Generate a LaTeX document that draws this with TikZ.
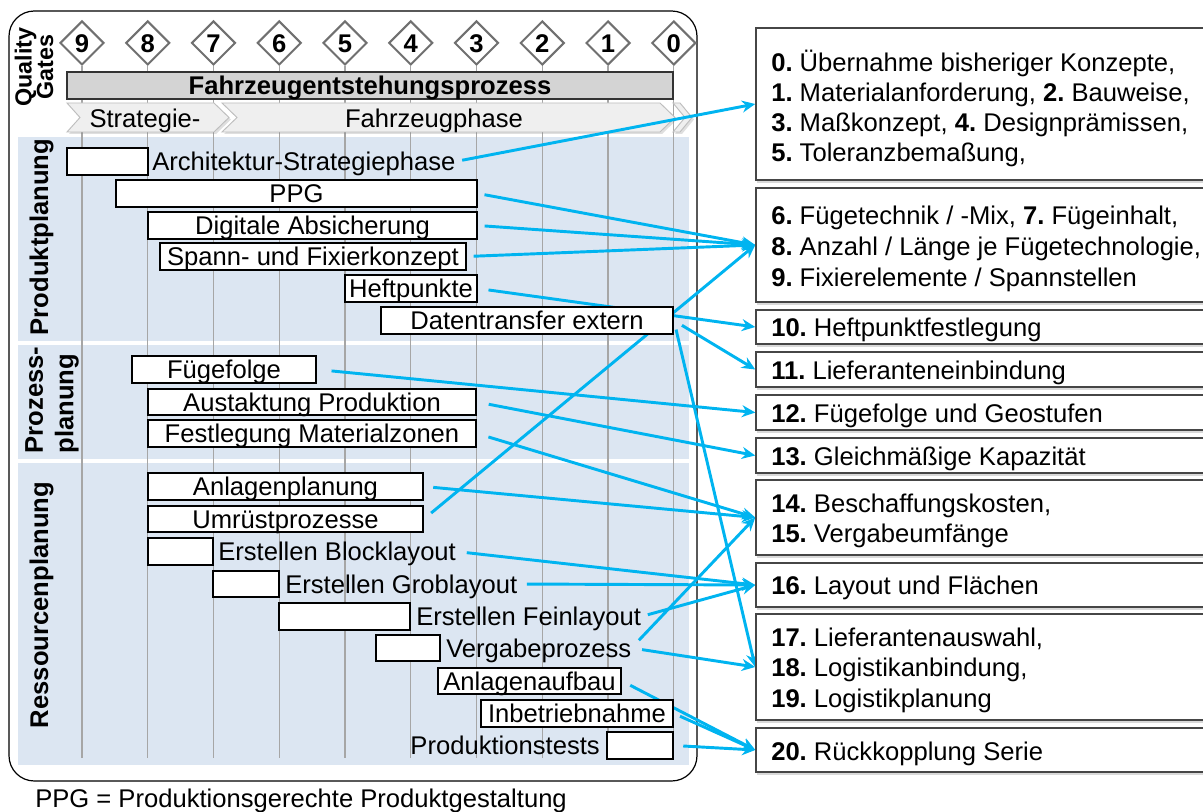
\documentclass[tikz,border=0pt]{standalone}
\usepackage{fontspec}
\setmainfont{Liberation Sans}
\usetikzlibrary{shapes.geometric,arrows.meta,shadows}
\definecolor{arrowblue}{RGB}{0,180,240}
\definecolor{panelblue}{RGB}{220,230,242}
\definecolor{gridgray}{RGB}{166,166,166}
\definecolor{gategray}{RGB}{112,112,112}
\definecolor{barfill}{RGB}{212,212,212}
\definecolor{chevfill}{RGB}{239,239,239}
\definecolor{chevdraw}{RGB}{190,190,190}
\definecolor{rboxdraw}{RGB}{70,70,70}
\pgfdeclarelayer{bg}
\pgfdeclarelayer{arr}
\pgfsetlayers{bg,arr,main}
\newcommand\basefont{\fontsize{19.2pt}{22.7pt}\selectfont\frenchspacing}
\newcommand\gbar[7][gbox]{%
  \pgfmathsetmacro\gbw{(#5-#3)*0.75}%
  \pgfmathsetmacro\gbh{(#6-#4)*0.75}%
  \node[#1, minimum width=\gbw pt, minimum height=\gbh pt] (#2) at ({(#3+#5)/2},{(#4+#6)/2}) {#7};}
\tikzset{
  txt/.style={inner sep=0pt, text height=13.8pt, text depth=0pt},
  gbox/.style={txt, draw=black, line width=1.4pt, fill=white},
  rbox/.style={draw=rboxdraw, line width=1.1pt, fill=white, inner sep=0pt,
    drop shadow={shadow xshift=1pt, shadow yshift=-2pt, opacity=0.3, fill=gray}},
  fzbox/.style={txt, draw=black!80, line width=1.4pt, fill=barfill, font=\basefont\bfseries},
  lbl/.style={txt, anchor=west},
  rtxt/.style={txt, anchor=west},
  gate/.style={diamond, draw=gategray, line width=1.5pt, fill=white, inner sep=0pt,
    minimum width=33pt, minimum height=33pt, txt, font=\basefont\bfseries},
  chev/.style={fill=chevfill, draw=chevdraw, line width=0.7pt,
    drop shadow={shadow xshift=1.5pt, shadow yshift=-1.5pt, opacity=0.25, fill=gray}},
  side/.style={txt, rotate=90, font=\basefont\bfseries},
  conn/.style={draw=arrowblue, line width=2.2pt, shorten <=5pt,
    -{Stealth[length=10pt,width=9pt]}},
}
\begin{document}
\begin{tikzpicture}[x=0.75pt,y=-0.75pt,font=\basefont]
\useasboundingbox (0,0) rectangle (1203,812);
\clip (0,0) rectangle (1203,812);

% ---------- background ----------
\begin{pgfonlayer}{bg}
\draw[line width=0.9pt, rounded corners=19pt, fill=white] (9,11) rectangle (697,781);
\fill[panelblue] (18,137) rectangle (689,341);
\fill[panelblue] (18,345) rectangle (689,459);
\fill[panelblue] (18,463) rectangle (689,765);
\end{pgfonlayer}

% ---------- quality gates ----------
\foreach \n [count=\i from 0] in {9,8,7,6,5,4,3,2,1,0} {
  \node[gate] (g\n) at ({82+\i*65.75},43) {\n};
  \begin{pgfonlayer}{bg}
  \draw[gridgray, line width=0.9pt] (g\n.south) -- ({82+\i*65.75},758);
  \end{pgfonlayer}
}

% ---------- chevrons ----------
\begin{pgfonlayer}{bg}
\path[chev] (67,103) -- (214,103) -- (229,117.5) -- (214,132) -- (67,132) -- (80,117.5) -- cycle;
\path[chev] (222,103) -- (660,103) -- (675,117.5) -- (660,132) -- (222,132) -- (237,117.5) -- cycle;
\path[chev] (673,103) -- (680,103) -- (692,117.5) -- (680,132) -- (673,132) -- (685,117.5) -- cycle;
\end{pgfonlayer}
\node[txt] (strat) at (145,118) {Strategie-};
\node[txt] (fzph) at (434,118) {Fahrzeugphase};

\gbar[fzbox]{fzp}{67}{72}{673}{99}{Fahrzeugentstehungsprozess}

% ---------- side labels ----------
\node[rotate=90, inner sep=0pt, font=\fontsize{17.5pt}{16pt}\selectfont\bfseries, align=center] (qg) at (34,67) {Quality\\Gates};
\node[side] (pp) at (39,237) {Produktplanung};
\node[rotate=90, inner sep=0pt, align=left, font=\fontsize{19.2pt}{23pt}\selectfont\bfseries] (prz) at (52,400) {Prozess-\\planung};
\node[side] (rp) at (39,605) {Ressourcenplanung};

% ---------- bars ----------
\gbar{arch}{67}{148}{148}{175}{}
\node[lbl] (archl) at (152,161.5) {Architektur-Strategiephase};
\gbar{ppg}{116}{180}{477}{207}{PPG}
\gbar{dig}{148}{212}{477}{239}{Digitale Absicherung\hspace{20pt}}
\gbar{spann}{160}{243}{466}{270}{Spann- und Fixierkonzept}
\gbar{heft}{345}{275}{477}{302}{Heftpunkte}
\gbar{daten}{381}{307}{673}{334}{Datentransfer extern}
\gbar{fuege}{132}{356}{316}{383}{Fügefolge}
\gbar{aust}{148}{389}{476}{415}{Austaktung Produktion}
\gbar{fest}{148}{420}{476}{447}{Festlegung Materialzonen}
\gbar{anlp}{148}{473}{423}{500}{Anlagenplanung}
\gbar{umr}{148}{506}{423}{532}{Umrüstprozesse}
\gbar{blk}{148}{538}{213}{565}{}
\node[lbl] (blkl) at (218,551.5) {Erstellen Blocklayout};
\gbar{grob}{213}{571}{279}{597}{}
\node[lbl] (grobl) at (285,584) {Erstellen Groblayout};
\gbar{fein}{279}{603}{410}{630}{}
\node[lbl] (feinl) at (416,616.5) {Erstellen Feinlayout};
\gbar{verg}{376}{635}{440}{661}{}
\node[lbl] (vergl) at (446,648) {Vergabeprozess};
\gbar{aufb}{438}{668}{621}{694}{Anlagenaufbau}
\gbar{inbe}{481}{700}{673}{727}{Inbetriebnahme}
\gbar{ptest}{607}{732}{673}{759}{}
\node[txt, anchor=east] (ptestl) at (600,745.5) {Produktionstests};

\node[lbl] (foot) at (35,798) {PPG = Produktionsgerechte Produktgestaltung};

% ---------- right boxes ----------
\gbar[rbox]{rA}{756}{28}{1215}{180}{}
\gbar[rbox]{rB}{756}{188}{1215}{302}{}
\gbar[rbox]{rC}{756}{310}{1215}{344}{}
\gbar[rbox]{rD}{756}{352}{1215}{387}{}
\gbar[rbox]{rE}{756}{395}{1215}{430}{}
\gbar[rbox]{rF}{756}{438}{1215}{473}{}
\gbar[rbox]{rG}{756}{480}{1215}{555}{}
\gbar[rbox]{rH}{756}{563}{1215}{607}{}
\gbar[rbox]{rI}{756}{614}{1215}{720}{}
\gbar[rbox]{rJ}{756}{728}{1215}{772}{}

\node[rtxt] (tA1) at (771,62) {\textbf{0.} Übernahme bisheriger Konzepte,};
\node[rtxt] (tA2) at (771,92) {\textbf{1.} Materialanforderung, \textbf{2.} Bauweise,};
\node[rtxt] (tA3) at (771,122) {\textbf{3.} Maßkonzept, \textbf{4.} Designprämissen,};
\node[rtxt] (tA4) at (771,152) {\textbf{5.} Toleranzbemaßung,};
\node[rtxt] (tB1) at (771,215) {\textbf{6.} Fügetechnik / -Mix, \textbf{7.} Fügeinhalt,};
\node[rtxt] (tB2) at (771,246) {\textbf{8.} Anzahl / Länge je Fügetechnologie,};
\node[rtxt] (tB3) at (771,277) {\textbf{9.} Fixierelemente / Spannstellen};
\node[rtxt] (tC) at (771,327) {\textbf{10.} Heftpunktfestlegung};
\node[rtxt] (tD) at (771,370) {\textbf{11.} Lieferanteneinbindung};
\node[rtxt] (tE) at (771,413) {\textbf{12.} Fügefolge und Geostufen};
\node[rtxt] (tF) at (771,456) {\textbf{13.} Gleichmäßige Kapazität};
\node[rtxt] (tG1) at (771,503) {\textbf{14.} Beschaffungskosten,};
\node[rtxt] (tG2) at (771,533) {\textbf{15.} Vergabeumfänge};
\node[rtxt] (tH) at (771,585) {\textbf{16.} Layout und Flächen};
\node[rtxt] (tI1) at (771,637) {\textbf{17.} Lieferantenauswahl,};
\node[rtxt] (tI2) at (771,667) {\textbf{18.} Logistikanbindung,};
\node[rtxt] (tI3) at (771,698) {\textbf{19.} Logistikplanung};
\node[rtxt] (tJ) at (771,751) {\textbf{20.} Rückkopplung Serie};

% ---------- connectors ----------
\begin{pgfonlayer}{arr}
\draw[conn] (archl.east) -- (rA.west);
\draw[conn] (ppg.east) -- (rB.west);
\draw[conn] (dig.east) -- (rB.west);
\draw[conn] (spann.east) -- (rB.west);
\draw[conn, shorten <=8pt] (heft.east) -- (rC.west);
\draw[conn, shorten <=7pt] (daten.east) -- (rD.west);
\draw[conn, shorten <=7pt] (daten.east) -- (rI.west);
\draw[conn, shorten <=11pt] (fuege.east) -- (rE.west);
\draw[conn, shorten <=9pt] (aust.east) -- (rF.west);
\draw[conn, shorten <=9pt] (fest.east) -- (rG.west);
\draw[conn, shorten <=7pt] (anlp.east) -- (rG.west);
\draw[conn, shorten <=7pt] (umr.east) -- (rB.west);
\draw[conn, shorten <=8pt] (blkl.east) -- (rH.west);
\draw[conn, shorten <=7pt] (grobl.east) -- (rH.west);
\draw[conn] (feinl.east) -- (rH.west);
\draw[conn, shorten <=8pt] (vergl.east) -- (rG.west);
\draw[conn, shorten <=8pt] (vergl.east) -- (rI.west);
\draw[conn, shorten <=7pt] (aufb.east) -- (rJ.west);
\draw[conn] (inbe.east) -- (rJ.west);
\draw[conn, shorten <=7pt] (ptest.east) -- (rJ.west);
\end{pgfonlayer}
\end{tikzpicture}
\end{document}
